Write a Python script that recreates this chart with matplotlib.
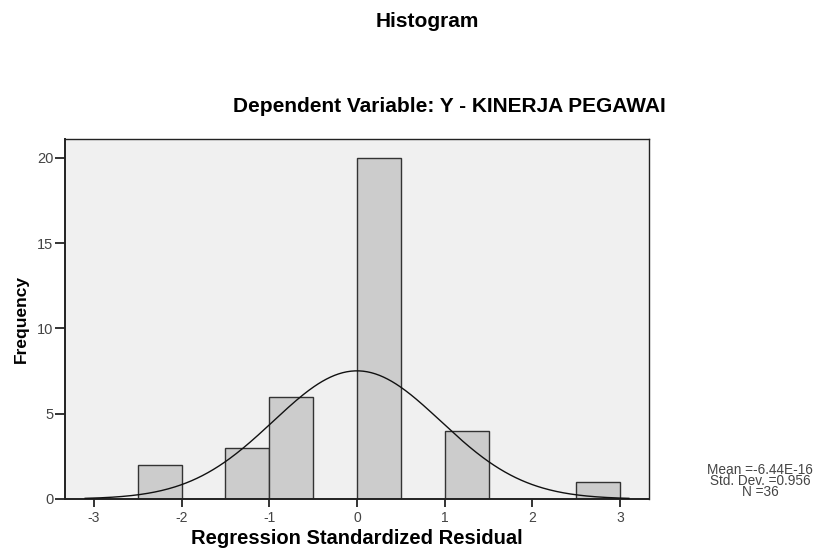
import numpy as np
import matplotlib
matplotlib.use("Agg")
import matplotlib.pyplot as plt

plt.rcParams['font.family'] = ['Liberation Sans', 'DejaVu Sans']

# Data
bin_left = [-2.5, -1.5, -1.0, 0.0, 1.0, 2.5]
counts = [2, 3, 6, 20, 4, 1]
bin_width = 0.5
mean_val = -6.44e-16
std_val = 0.956
n_val = 36
xticks = [-3, -2, -1, 0, 1, 2, 3]
yticks = [0, 5, 10, 15, 20]
stats_lines = ['Mean =-6.44E-16', 'Std. Dev. =0.956', 'N =36']

fig = plt.figure(figsize=(8.19, 5.5), dpi=100)
fig.patch.set_facecolor('white')
ax = fig.add_axes([65/819, 1-499/550, (649-65)/819, (499-139)/550])
ax.set_facecolor('#f0f0f0')

ax.bar(bin_left, counts, width=bin_width, align='edge', color='#cccccc',
       edgecolor='#333333', linewidth=1.0, zorder=2)

xs = np.linspace(-3.1, 3.1, 400)
pdf = n_val * bin_width / (std_val * np.sqrt(2*np.pi)) * np.exp(-0.5*((xs-mean_val)/std_val)**2)
ax.plot(xs, pdf, color='#111111', linewidth=1.0, zorder=3)

ax.set_xlim(-3.33, 3.33)
ax.set_ylim(0, 21.1)
ax.set_xticks(xticks)
ax.set_yticks(yticks)
ax.set_xticklabels([str(t) for t in xticks])
ax.set_yticklabels([str(t) for t in yticks])
ax.tick_params(axis='x', direction='out', length=6, width=1.2, color='#111111',
               labelsize=10, labelcolor='#444444', pad=3)
ax.tick_params(axis='y', direction='out', length=7.5, width=1.2, color='#111111',
               labelsize=10.5, labelcolor='#444444', pad=1)
for s in ax.spines.values():
    s.set_color('#222222')
    s.set_linewidth(1.0)
ax.spines['bottom'].set_linewidth(1.4)
ax.spines['left'].set_linewidth(1.4)

ax.set_xlabel('Regression Standardized Residual', fontsize=14.5, fontweight='bold', labelpad=2.5)
ax.set_ylabel('Frequency', fontsize=12.5, fontweight='bold', labelpad=6)

fig.text(0.522, 1-27.3/550, 'Histogram', ha='center', va='baseline', fontsize=15, fontweight='bold')
fig.text(0.549, 1-111.7/550, 'Dependent Variable: Y - KINERJA PEGAWAI', ha='center', va='baseline',
         fontsize=15, fontweight='bold')
fig.text(760/819, 1-481/550, '\n'.join(stats_lines), ha='center', va='center',
         multialignment='center', fontsize=9.8, color='#444444', linespacing=0.72)

fig.savefig('out.png', dpi=100)
